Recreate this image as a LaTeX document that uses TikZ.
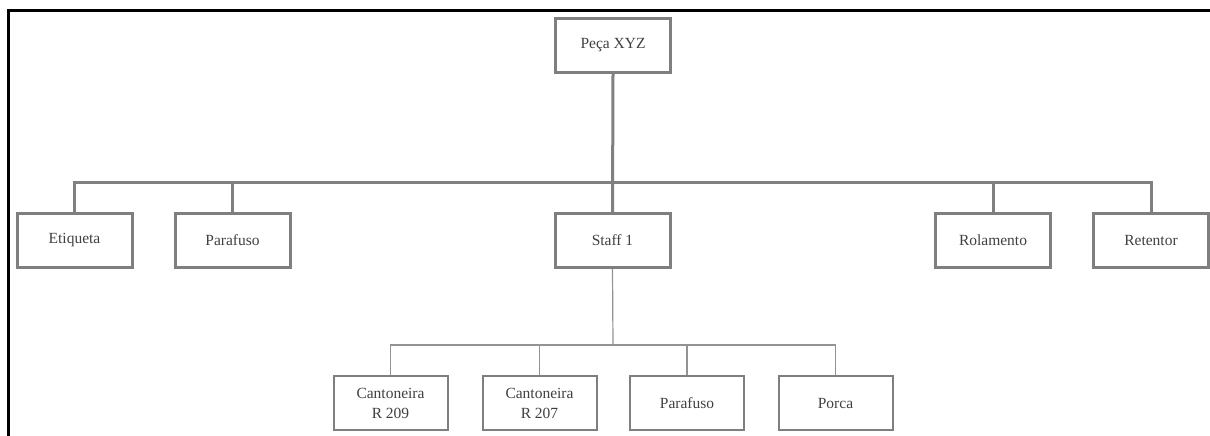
\documentclass[tikz,border=0pt]{standalone}
\usepackage{fontspec}
\setmainfont{Liberation Serif}
\definecolor{boxline}{HTML}{7F7F7F}
\definecolor{linkline}{HTML}{808080}
\definecolor{labeltext}{HTML}{404040}
\begin{document}
\begin{tikzpicture}[x=1pt,y=-1pt,
  unit/.style={draw=boxline, line width=3pt, fill=white, minimum width=115pt,
    minimum height=54pt, inner sep=0pt, text=labeltext, align=center,
    font=\fontsize{15.5}{20}\selectfont},
  part/.style={unit, line width=2pt, minimum width=114pt, minimum height=54pt},
  mainlink/.style={draw=linkline, line width=3pt},
  sublink/.style={draw=linkline!85, line width=1.2pt}]
  \useasboundingbox (0,0) rectangle (1210,436);
  % frame lines on the top and left
  \draw[line width=3pt] (8.5,436) -- (8.5,10.8) -- (1210,10.8);

  % top level
  \node[unit] (peca) at (613,45.5) {Peça XYZ};
  \node[unit] (etiqueta) at (74.5,240.5) {Etiqueta};
  \node[unit] (parafusoA) at (232.5,240.5) {Parafuso};
  \node[unit] (staff) at (612.5,240.5) {Staff 1};
  \node[unit] (rolamento) at (993,240.5) {Rolamento};
  \node[unit] (retentor) at (1151,240.5) {Retentor};

  % second level
  \node[part] (cant209) at (390.5,403) {Cantoneira\\R 209};
  \node[part] (cant207) at (539.5,403) {Cantoneira\\R 207};
  \node[part] (parafusoB) at (687,403) {Parafuso};
  \node[part] (porca) at (835.5,403) {Porca};

  \coordinate (bus) at (613,182);
  \coordinate (subbus) at (613,345);

  % connectors from Peça XYZ
  \draw[mainlink] (peca.south) -- (staff.north);
  \draw[mainlink] (etiqueta.north) |- (bus) -| (retentor.north);
  \draw[mainlink] (parafusoA.north) -- (parafusoA.north |- bus);
  \draw[mainlink] (rolamento.north) -- (rolamento.north |- bus);

  % connectors from Staff 1
  \draw[sublink] (staff.south) -- (subbus);
  \draw[sublink] (cant209.north) |- (subbus) -| (porca.north);
  \draw[sublink] (cant207.north) -- (cant207.north |- subbus);
  \draw[sublink] (parafusoB.north) -- (parafusoB.north |- subbus);
\end{tikzpicture}
\end{document}
